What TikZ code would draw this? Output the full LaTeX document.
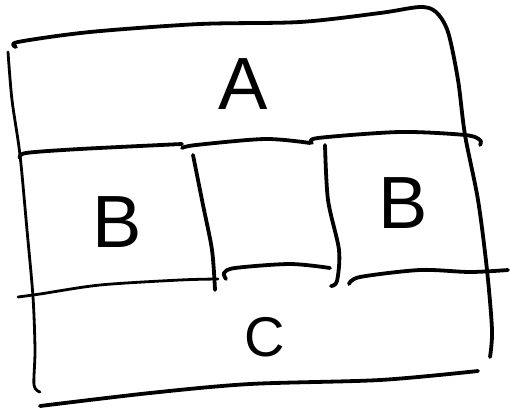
\documentclass[tikz,border=0pt]{standalone}
\usepackage{fontspec}
\setmainfont{Liberation Sans}
\usepackage{tikz}

\begin{document}
\begin{tikzpicture}[
  x=1pt, y=-1pt,
  stroke/.style={line width=3.8pt, line cap=round, line join=round},
  thin stroke/.style={line width=2.8pt, line cap=round, line join=round},
  lbl/.style={inner sep=0pt, font=\fontsize{74}{74}\selectfont},
  small lbl/.style={inner sep=0pt, font=\fontsize{56}{56}\selectfont}
]
\useasboundingbox (0,0) rectangle (510,415);

% outer frame
\draw[stroke] plot[smooth] coordinates {(16,47) (18,42) (90,32) (200,24) (300,22) (380,13) (420,7) (436,12) (448,32) (458,80) (465,135) (478,200) (487,270) (492,330) (490,357)};
\draw[thin stroke] plot[smooth] coordinates {(8,52) (12,100) (20,155) (27,230) (33,297) (35,350) (34,385) (40,392)};
\draw[stroke] plot[smooth] coordinates {(40,406) (150,393) (250,384) (380,380) (478,371)};

% row lines
\draw[stroke] plot[smooth] coordinates {(20,158) (26,153) (80,149) (182,144)};
\draw[stroke] plot[smooth] coordinates {(182,148) (196,145) (265,139) (310,143)};
\draw[stroke] plot[smooth] coordinates {(312,143) (318,138) (400,132) (465,135) (480,140) (480,145)};
\draw[thin stroke] plot[smooth] coordinates {(18,297) (40,294) (100,285) (180,280) (218,279)};
\draw[stroke] plot[smooth] coordinates {(226,279) (224,273) (235,268) (290,264) (330,268)};
\draw[stroke] plot[smooth] coordinates {(349,284) (360,277) (420,270) (470,272) (508,270)};

% column lines
\draw[stroke] plot[smooth] coordinates {(193,155) (203,205) (212,250) (215,290)};
\draw[stroke] plot[smooth] coordinates {(325,145) (328,200) (339,250) (337,281) (331,286)};

% labels
\node[lbl] (a) at (243,84) {A};
\node[lbl] (b1) at (117,222) {B};
\node[lbl] (b2) at (403,203) {B};
\node[small lbl] (c) at (265,337) {C};
\end{tikzpicture}
\end{document}
